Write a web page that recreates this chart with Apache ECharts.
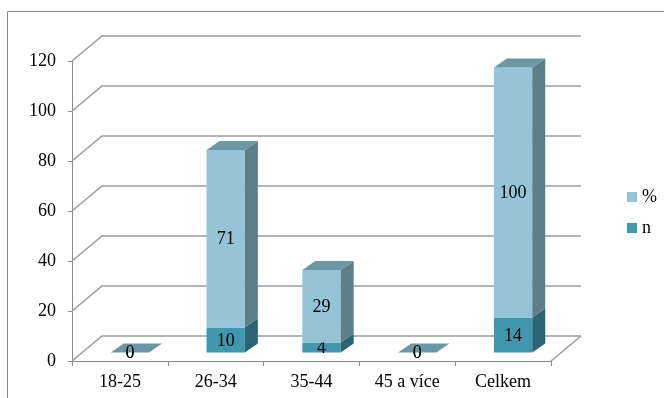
<!DOCTYPE html>
<html>
<head>
<meta charset="utf-8">
<script src="https://cdn.jsdelivr.net/npm/echarts@6/dist/echarts.min.js"></script>
<style>
  html, body { margin: 0; padding: 0; background: #fff; }
  #chart { width: 664px; height: 398px; }
</style>
</head>
<body>
<div id="chart"></div>
<script>
// Age groups and the two stacked measures (count n, share %)
const categories = ['18-25', '26-34', '35-44', '45 a více', 'Celkem'];
const countN = [0, 10, 4, 0, 14];
const percent = [0, 71, 29, 0, 100];
const yTicks = [0, 20, 40, 60, 80, 100, 120];

const FONT = '"Liberation Serif", "Times New Roman", serif';
// pseudo-3D depth offsets in pixels
const WALL = { dx: 30, dy: -25 };
const BAR_OFF = { dx: 10, dy: -8.5 };
const BAR_DEPTH = { dx: 13, dy: -9 };
const GRID_COLOR = '#9c9c9c';
const palette = {
  pct: { front: '#94c4d6', side: '#5e7f8a', top: '#6e97a4' },
  n:   { front: '#4197ae', side: '#2b6474', top: '#357a8c' }
};

function poly(points, fill) {
  return { type: 'polygon', shape: { points: points }, style: { fill: fill } };
}

// back wall, side wall and floor lines for every tick value
function renderWall(params, api) {
  const cs = params.coordSys;
  const v = api.value(1);
  const y = api.coord([0, v])[1];
  const x0 = cs.x, x1 = cs.x + cs.width;
  const children = [{
    type: 'polyline',
    shape: { points: [[x0, y], [x0 + WALL.dx, y + WALL.dy], [x1 + WALL.dx, y + WALL.dy]] },
    style: { stroke: GRID_COLOR, lineWidth: 1.6, fill: null }
  }];
  if (v === 0) {
    children.push({
      type: 'line',
      shape: { x1: x1, y1: y, x2: x1 + WALL.dx, y2: y + WALL.dy },
      style: { stroke: GRID_COLOR, lineWidth: 1.6 }
    });
  }
  return { type: 'group', children: children };
}

// one stacked segment drawn as a box (front, side, optional top) with its value label
function makeRenderBar(segment) {
  return function (params, api) {
    const i = api.value(0);
    const lo = api.value(1), hi = api.value(2), label = api.value(3);
    const w = api.size([1, 0])[0] * 0.4;
    const cx = api.coord([i, 0])[0] + BAR_OFF.dx;
    const yLo = api.coord([i, lo])[1] + BAR_OFF.dy;
    const yHi = api.coord([i, hi])[1] + BAR_OFF.dy;
    const xl = cx - w / 2, xr = cx + w / 2;
    const c = palette[segment];
    const d = BAR_DEPTH;
    const children = [];
    if (yLo - yHi > 0.5) {
      children.push(poly([[xl, yHi], [xr, yHi], [xr, yLo], [xl, yLo]], c.front));
      children.push(poly([[xr, yHi], [xr + d.dx, yHi + d.dy], [xr + d.dx, yLo + d.dy], [xr, yLo]], c.side));
    }
    if (segment === 'pct') {
      children.push(poly([[xl, yHi], [xl + d.dx, yHi + d.dy], [xr + d.dx, yHi + d.dy], [xr, yHi]], c.top));
    }
    children.push({
      type: 'text',
      style: {
        text: String(label), x: cx, y: (yLo + yHi) / 2 + 1,
        align: 'center', verticalAlign: 'middle',
        font: '18px ' + FONT, fill: '#000'
      }
    });
    return { type: 'group', children: children };
  };
}

const nData = categories.map((_, i) => [i, 0, countN[i], countN[i]]);
const pctData = categories.map((_, i) => [i, countN[i], countN[i] + percent[i], percent[i]]);
const wallData = yTicks.map(v => [0, v]);

const chart = echarts.init(document.getElementById('chart'), null, { renderer: 'canvas' });
chart.setOption({
  animation: false,
  backgroundColor: '#fff',
  graphic: [{
    type: 'rect',
    shape: { x: 7.5, y: 11.5, width: 720, height: 420 },
    style: { fill: null, stroke: '#8a8a8a', lineWidth: 1 },
    z: 0
  }],
  grid: { left: 72, right: 113, top: 61, bottom: 37 },
  legend: {
    orient: 'vertical',
    left: 622,
    top: 183,
    itemWidth: 10,
    itemHeight: 10,
    itemGap: 13,
    data: [{ name: '%', icon: 'rect' }, { name: 'n', icon: 'rect' }],
    textStyle: { fontFamily: FONT, fontSize: 18, color: '#000' }
  },
  xAxis: {
    type: 'category',
    data: categories,
    axisLine: { lineStyle: { color: '#8c8c8c', width: 1 } },
    axisTick: { show: true, length: 5, lineStyle: { color: '#8c8c8c' } },
    axisLabel: { fontFamily: FONT, fontSize: 18, color: '#000', margin: 12 },
    splitLine: { show: false }
  },
  yAxis: {
    type: 'value',
    min: 0, max: 120, interval: 20,
    axisLine: { show: true, lineStyle: { color: '#8c8c8c', width: 1 } },
    axisTick: { show: true, length: 4, lineStyle: { color: '#8c8c8c' } },
    axisLabel: { fontFamily: FONT, fontSize: 18, color: '#000', margin: 16 },
    splitLine: { show: false }
  },
  series: [
    {
      type: 'custom', name: 'walls', renderItem: renderWall,
      data: wallData, encode: { x: 0, y: 1 }, silent: true, z: 1
    },
    {
      type: 'custom', name: 'n', renderItem: makeRenderBar('n'),
      data: nData, encode: { x: 0, y: [1, 2] },
      itemStyle: { color: palette.n.front }, z: 2
    },
    {
      type: 'custom', name: '%', renderItem: makeRenderBar('pct'),
      data: pctData, encode: { x: 0, y: [1, 2] },
      itemStyle: { color: palette.pct.front }, z: 3
    }
  ]
});
</script>
</body>
</html>
